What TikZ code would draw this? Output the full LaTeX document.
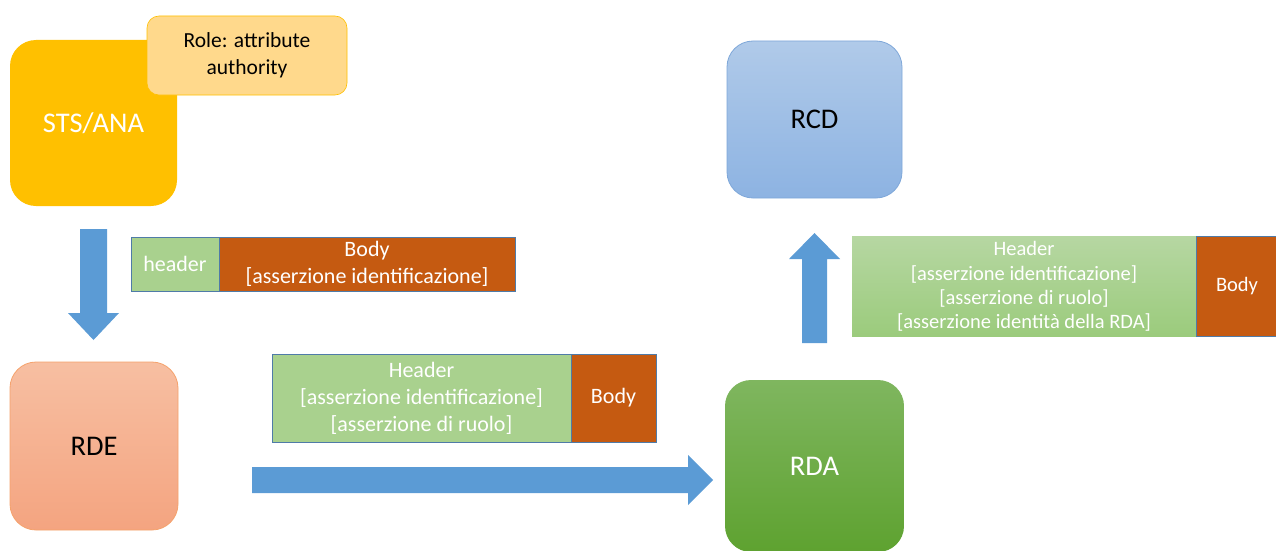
\documentclass[tikz,border=0pt]{standalone}
\usepackage{fontspec}
\setmainfont{Carlito}
\definecolor{gold}{HTML}{FFC000}
\definecolor{rolefill}{HTML}{FFD98C}
\definecolor{arrowblue}{HTML}{5B9BD5}
\definecolor{hdrgreen}{HTML}{A9D18E}
\definecolor{bodyorange}{HTML}{C55A11}
\definecolor{pkgborder}{HTML}{4F7BA8}
\definecolor{rdetop}{HTML}{F7BFA2}
\definecolor{rdebot}{HTML}{F4A480}
\definecolor{rdeborder}{HTML}{F5A26C}
\definecolor{rdatop}{HTML}{7FB65F}
\definecolor{rdabot}{HTML}{5EA230}
\definecolor{rcdtop}{HTML}{B0CAE9}
\definecolor{rcdbot}{HTML}{8DB3E2}
\definecolor{rcdborder}{HTML}{7EA7D9}
\definecolor{hdrtop}{HTML}{B6D7A2}
\definecolor{hdrbot}{HTML}{9BCB7C}
\tikzset{
  bignode/.style={rounded corners=26pt, inner sep=0pt, font=\fontsize{28.5}{32}\selectfont, align=center},
  pkt/.style={draw=pkgborder, line width=0.8pt, inner sep=0pt, text=white, align=center, font=\fontsize{22}{27}\selectfont},
  blockarrow/.style={fill=arrowblue, draw=none}
}
\begin{document}
\begin{tikzpicture}[x=1pt,y=-1pt]
\useasboundingbox (0,0) rectangle (1276,551);
% STS/ANA
\node[bignode, fill=gold, text=white, minimum width=167pt, minimum height=166pt] (sts) at (93.5,123) {STS/ANA};
\node[rounded corners=12pt, fill=rolefill, draw=gold, line width=0.6pt, minimum width=200pt, minimum height=79pt, inner sep=0pt, align=center, font=\fontsize{21.5}{27}\selectfont] (role) at (247,55.5) {Role: attribute\\authority};
% RDE
\node[bignode, top color=rdetop, bottom color=rdebot, draw=rdeborder, line width=0.8pt, minimum width=168pt, minimum height=168pt] (rde) at (94,446) {RDE};
% RDA
\node[bignode, top color=rdatop, bottom color=rdabot, draw=none, minimum width=179pt, minimum height=172pt, text=white] (rda) at (814.5,466) {RDA};
% RCD
\node[bignode, top color=rcdtop, bottom color=rcdbot, draw=rcdborder, line width=0.8pt, minimum width=175pt, minimum height=157pt] (rcd) at (814.5,119.5) {RCD};
% package 1
\node[pkt, fill=hdrgreen, minimum width=88pt, minimum height=54pt] (h1) at (175,264) {header};
\node[pkt, fill=bodyorange, minimum width=296pt, minimum height=54pt] (b1) at (367,264) {Body\\{}[asserzione identificazione]};
% package 2
\node[pkt, fill=hdrgreen, minimum width=299pt, minimum height=88pt] (h2) at (421.5,398) {Header\\{}[asserzione identificazione]\\{}[asserzione di ruolo]};
\node[pkt, fill=bodyorange, minimum width=85pt, minimum height=88pt] (b2) at (613.5,398) {Body};
% package 3
\node[pkt, draw=none, top color=hdrtop, bottom color=hdrbot, minimum width=344pt, minimum height=100pt, font=\fontsize{20.5}{24.3}\selectfont] (h3) at (1024,286.5) {Header\\{}[asserzione identificazione]\\{}[asserzione di ruolo]\\{}[asserzione identità della RDA]};
\node[pkt, fill=bodyorange, minimum width=82pt, minimum height=100pt, font=\fontsize{20.5}{24.3}\selectfont] (b3) at (1237,286) {Body};
% arrows
\coordinate (dA) at (93.5,229);
\fill[blockarrow] (80,229) -- (107,229) -- (107,313) -- (119,313) -- (93.5,340) -- (68,313) -- (80,313) -- cycle;
\coordinate (rA) at (252,480);
\fill[blockarrow] (252,467) -- (688,467) -- (688,455) -- (713,480) -- (688,505) -- (688,493) -- (252,493) -- cycle;
\coordinate (uA) at (814.5,343);
\fill[blockarrow] (802,343) -- (827,343) -- (827,259) -- (840,259) -- (814.5,233) -- (789,259) -- (802,259) -- cycle;
\end{tikzpicture}
\end{document}
